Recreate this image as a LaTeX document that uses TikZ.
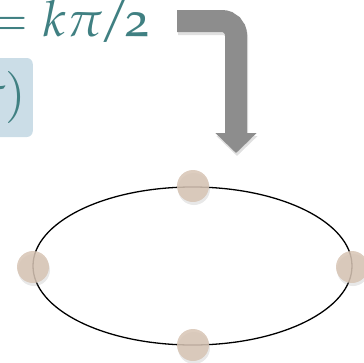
\documentclass[tikz,border=0pt]{standalone}
\usepackage[T1]{fontenc}
\usepackage[osf]{mathpazo}
\usepackage{xcolor}
\usepackage{tikz}
\usetikzlibrary{
  arrows.meta,
  positioning,
  shadows
}
\definecolor{myteal}{RGB}{64,128,130}
\definecolor{mygray}{RGB}{141,141,141}
\definecolor{boxbg}{RGB}{203,221,231}
\definecolor{beadfill}{RGB}{215,196,180}
\tikzset{
  mathlabel/.style={
    text=myteal, inner sep=0pt,
    font=\fontsize{50bp}{54bp}\selectfont
  },
  mathbox/.style={
    rectangle, fill=boxbg, rounded corners=6bp,
    minimum height=79bp, inner xsep=6bp, inner ysep=0pt,
    text=myteal, font=\fontsize{50bp}{54bp}\selectfont
  },
  bead/.style={
    circle, fill=beadfill, fill opacity=0.85,
    minimum size=32bp, inner sep=0pt,
    drop shadow={opacity=0.18, shadow xshift=1bp, shadow yshift=-3bp}
  },
  orbit/.style={draw=black, line width=1.3bp},
  bigarrow/.style={-{Triangle[length=20bp, width=40bp]}, line width=22bp,
    mygray, rounded corners=14bp},
  bigshadow/.style={-{Triangle[length=20bp, width=40bp]}, line width=22bp,
    black, opacity=0.12, rounded corners=14bp},
}

\begin{document}
\begin{tikzpicture}[x=1bp, y=-1bp]

		%% -- frame --
		\clip (0,0) rectangle (364,363);

		%% -- labels --
		\node[mathlabel, anchor=base east] (phase) at (150,36)
		{$=k\pi\mkern-1.5mu/\mkern-2mu\mbox{2}$};
		\node[mathbox, anchor=east] (sigbox) at (33,97.5) {$\sigma)$};

		%% -- bent arrow --
		\coordinate (arrowstart) at (177,21);
		\coordinate (arrowend)   at (236,153);
		\draw[bigshadow, transform canvas={xshift=1bp, yshift=-3bp}]
		(arrowstart) -| (arrowend);
		\draw[bigarrow] (arrowstart) -| (arrowend);

		%% -- orbit and beads --
		\coordinate (ctr) at (192.5,266);
		\draw[orbit] (ctr) ellipse [x radius=159.5, y radius=79];
		\node[bead] (topbead)    at (193,186) {};
		\node[bead] (bottombead) at (193,345) {};
		\node[bead] (leftbead)   at (33,267)  {};
		\node[bead] (rightbead)  at (352,267) {};

	\end{tikzpicture}
\end{document}
